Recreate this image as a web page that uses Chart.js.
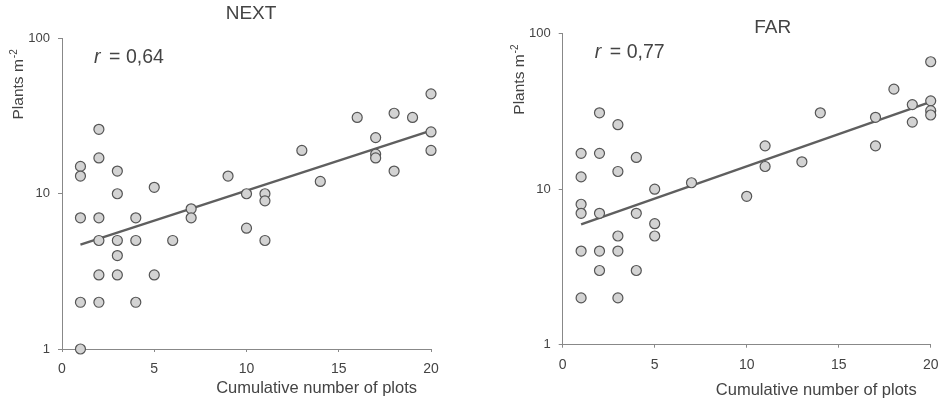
<!DOCTYPE html>
<html><head><meta charset="utf-8">
<script src="https://cdn.jsdelivr.net/npm/chart.js@4/dist/chart.umd.min.js"></script>
<style>
html,body{margin:0;padding:0;background:#fff;}
.w{position:absolute;top:0;width:474px;height:405px;}
</style></head><body>
<div class="w" style="left:0"><canvas id="c1" width="474" height="405"></canvas></div>
<div class="w" style="left:474px"><canvas id="c2" width="474" height="405"></canvas></div>
<script>
// ---- data ----
const xTicks = [0, 5, 10, 15, 20];
const yTicks = [1, 10, 100];

const nextPlots  = [1,1,1,1,1,2,2,2,2,2,2,3,3,3,3,3,4,4,4,5,5,6,7,7,9,10,10,11,11,11,13,14,16,17,17,17,18,18,19,20,20,20];
const nextPlants = [15,13,7,2,1,26,17,7,5,3,2,14,10,5,4,3,7,5,2,11,3,5,8,7,13,10,6,10,9,5,19,12,31,23,18,17,33,14,31,44,25,19];
const nextTrendX = [1, 20];
const nextTrendY = [4.7, 25.5];

const farPlots  = [1,1,1,1,1,1,2,2,2,2,2,3,3,3,3,3,4,4,4,5,5,5,7,10,11,11,13,14,17,17,18,19,19,20,20,20,20];
const farPlants = [17,12,8,7,4,2,31,17,7,4,3,26,13,5,4,2,16,7,3,10,6,5,11,9,19,14,15,31,29,19,44,35,27,66,37,32,30];
const farTrendX = [1, 20];
const farTrendY = [5.95, 36.5];

const titles = ["NEXT", "FAR"];
const rLabels = ["0,64", "0,77"];
const xTitle = "Cumulative number of plots";
const yTitle = "Plants m";
const yTitleSup = "-2";

// ---- drawing ----
const FONT = "'Liberation Sans', Arial, sans-serif";
const TXT = "#444";

function textPlugin(cfg) {
  return {
    id: 'txt',
    afterDraw(chart) {
      const ctx = chart.ctx, a = chart.chartArea;
      ctx.save();
      ctx.fillStyle = TXT;
      // title
      ctx.font = "19px " + FONT;
      ctx.textAlign = "center"; ctx.textBaseline = "middle";
      ctx.fillText(cfg.title, a.left + cfg.titleDx, cfg.titleY);
      // r label
      ctx.textAlign = "left"; ctx.textBaseline = "alphabetic";
      const rx = a.left + 32, ry = a.top + 24.5;
      ctx.font = "italic 19.5px " + FONT;
      ctx.fillText("r", rx, ry);
      ctx.font = "19.5px " + FONT;
      ctx.fillText("=", rx + 15, ry);
      ctx.fillText(cfg.r, rx + 32, ry);
      // x title
      ctx.font = "16.5px " + FONT;
      ctx.textAlign = "right"; ctx.textBaseline = "middle";
      ctx.fillText(xTitle, a.right - 14, a.bottom + cfg.xTitleDy);
      // y title (rotated)
      ctx.translate(a.left - 38.7, a.top + 81);
      ctx.rotate(-Math.PI / 2);
      ctx.textAlign = "left"; ctx.textBaseline = "alphabetic";
      ctx.font = "15.5px " + FONT;
      ctx.fillText(yTitle, 0, 0);
      const w = ctx.measureText(yTitle).width;
      ctx.font = "10px " + FONT;
      ctx.fillText(yTitleSup, w + 1, -6);
      ctx.restore();
    }
  };
}

function makeChart(id, plots, plants, tx, ty, pad, cfg) {
  const pts = plots.map((x, i) => ({ x: x, y: plants[i] }));
  const trend = tx.map((x, i) => ({ x: x, y: ty[i] }));
  new Chart(document.getElementById(id), {
    type: 'scatter',
    data: {
      datasets: [
        { data: pts, pointRadius: 5, pointHoverRadius: 5, pointBackgroundColor: '#d3d3d3',
          pointBorderColor: '#555', pointBorderWidth: 1.2, showLine: false, clip: false },
        { type: 'line', data: trend, borderColor: '#5f5f5f', borderWidth: 2.4, pointRadius: 0,
          fill: false, tension: 0, clip: false }
      ]
    },
    options: {
      responsive: false, animation: false, devicePixelRatio: 1,
      layout: { padding: pad },
      plugins: { legend: { display: false }, tooltip: { enabled: false }, title: { display: false } },
      scales: {
        x: {
          type: 'linear', min: 0, max: 20,
          afterBuildTicks: s => { s.ticks = xTicks.map(v => ({ value: v })); },
          afterFit: s => { s.height = 40; },
          grid: { display: true, drawOnChartArea: false, drawTicks: true, tickLength: 3, color: '#888', tickColor: '#888' },
          border: { display: true, color: '#888', width: 1 },
          ticks: { color: TXT, font: { family: FONT, size: 14 }, padding: 9, maxRotation: 0, autoSkip: false,
                   callback: v => String(v) }
        },
        y: {
          type: 'logarithmic', min: 1, max: 100,
          afterBuildTicks: s => { s.ticks = yTicks.map(v => ({ value: v })); },
          afterFit: s => { s.width = 62; },
          grid: { display: true, drawOnChartArea: false, drawTicks: true, tickLength: 4, color: '#888', tickColor: '#888' },
          border: { display: true, color: '#888', width: 1 },
          ticks: { color: TXT, font: { family: FONT, size: 13 }, padding: 8, autoSkip: false,
                   callback: v => String(v) }
        }
      }
    },
    plugins: [textPlugin(cfg)]
  });
}

makeChart('c1', nextPlots, nextPlants, nextTrendX, nextTrendY,
  { left: 0, right: 43, top: 38.5, bottom: 16 },
  { title: titles[0], titleDx: 189, titleY: 14, r: rLabels[0], xTitleDy: 39.5 });
makeChart('c2', farPlots, farPlants, farTrendX, farTrendY,
  { left: 26.7, right: 17.3, top: 33.7, bottom: 20.3 },
  { title: titles[1], titleDx: 210, titleY: 28, r: rLabels[1], xTitleDy: 46 });
</script>
</body></html>
